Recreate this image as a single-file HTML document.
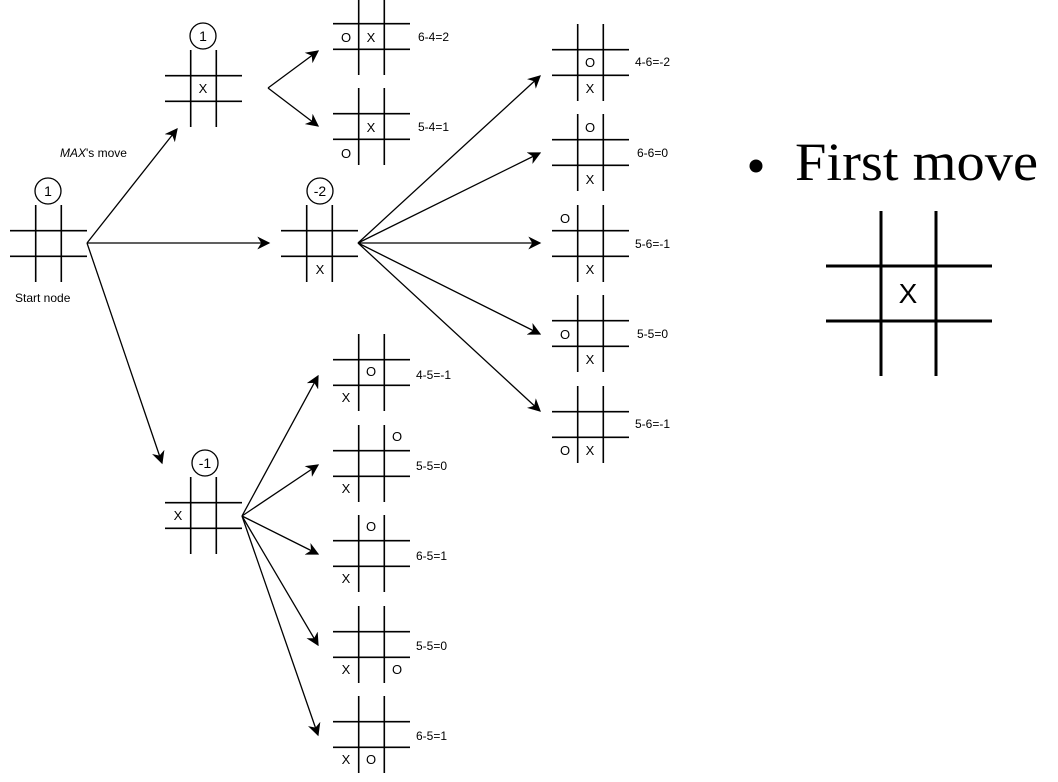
<!DOCTYPE html>
<html><head><meta charset="utf-8"><style>
html,body{margin:0;padding:0;background:#fff;width:1058px;height:782px;overflow:hidden}
svg text{font-family:"Liberation Sans",Arial,sans-serif;fill:#000}
</style></head><body>
<svg width="1058" height="782" viewBox="0 0 1058 782" xmlns="http://www.w3.org/2000/svg">
<defs>
<symbol id="b" overflow="visible">
<g stroke="#000" stroke-width="1.6">
<line x1="0" y1="25.7" x2="77" y2="25.7"/><line x1="0" y1="51.3" x2="77" y2="51.3"/>
<line x1="25.7" y1="0" x2="25.7" y2="77"/><line x1="51.3" y1="0" x2="51.3" y2="77"/>
</g></symbol>
<marker id="ah" markerWidth="13" markerHeight="13" refX="9" refY="5" orient="auto" markerUnits="userSpaceOnUse" viewBox="0 0 10 10">
<path d="M0,0 L10,5 L0,10 L3,5 Z" fill="#000"/></marker>
</defs>

<use href="#b" x="10" y="205"/>
<use href="#b" x="165" y="50"/>
<use href="#b" x="281" y="205"/>
<use href="#b" x="165" y="477"/>
<use href="#b" x="333" y="-2"/>
<use href="#b" x="333" y="88"/>
<use href="#b" x="552" y="24"/>
<use href="#b" x="552" y="114"/>
<use href="#b" x="552" y="205"/>
<use href="#b" x="552" y="295"/>
<use href="#b" x="552" y="386"/>
<use href="#b" x="333" y="334"/>
<use href="#b" x="333" y="425"/>
<use href="#b" x="333" y="515"/>
<use href="#b" x="333" y="606"/>
<use href="#b" x="333" y="696"/>

<g fill="none" stroke="#000" stroke-width="1.3">
<circle cx="48" cy="191" r="13"/>
<circle cx="203" cy="36" r="13"/>
<circle cx="320" cy="191" r="13"/>
<circle cx="205" cy="463" r="13"/>
</g>
<g font-size="14" text-anchor="middle">
<text x="48" y="196">1</text>
<text x="203" y="41">1</text>
<text x="320" y="196">-2</text>
<text x="205" y="468">-1</text>
</g>

<g font-size="13" text-anchor="middle">
<text x="203" y="93">X</text>
<text x="320" y="274">X</text>
<text x="178" y="520">X</text>
<text x="346" y="42">O</text><text x="371" y="42">X</text>
<text x="371" y="132">X</text><text x="346" y="158">O</text>
<text x="590" y="67">O</text><text x="590" y="93">X</text>
<text x="590" y="132">O</text><text x="590" y="184">X</text>
<text x="565" y="223">O</text><text x="590" y="274">X</text>
<text x="565" y="339">O</text><text x="590" y="364">X</text>
<text x="565" y="455">O</text><text x="590" y="455">X</text>
<text x="371" y="376">O</text><text x="346" y="402">X</text>
<text x="397" y="441">O</text><text x="346" y="493">X</text>
<text x="371" y="531">O</text><text x="346" y="583">X</text>
<text x="346" y="674">X</text><text x="397" y="674">O</text>
<text x="346" y="764">X</text><text x="371" y="764">O</text>
</g>

<g font-size="12">
<text x="418" y="41">6-4=2</text>
<text x="418" y="131">5-4=1</text>
<text x="635" y="66">4-6=-2</text>
<text x="637" y="157">6-6=0</text>
<text x="635" y="248">5-6=-1</text>
<text x="637" y="338">5-5=0</text>
<text x="635" y="428">5-6=-1</text>
<text x="416" y="379">4-5=-1</text>
<text x="416" y="470">5-5=0</text>
<text x="416" y="560">6-5=1</text>
<text x="416" y="650">5-5=0</text>
<text x="416" y="740">6-5=1</text>
<text x="60" y="157"><tspan font-style="italic">MAX</tspan>'s move</text>
<text x="15" y="302">Start node</text>
</g>

<g stroke="#000" stroke-width="1.3" fill="none" marker-end="url(#ah)">
<line x1="87" y1="243" x2="177" y2="129"/>
<line x1="87" y1="243" x2="269" y2="243"/>
<line x1="87" y1="243" x2="162" y2="463"/>
<line x1="268" y1="88" x2="318" y2="51"/>
<line x1="268" y1="88" x2="318" y2="126"/>
<line x1="358" y1="243" x2="540" y2="76"/>
<line x1="358" y1="243" x2="540" y2="153"/>
<line x1="358" y1="243" x2="540" y2="243"/>
<line x1="358" y1="243" x2="540" y2="334"/>
<line x1="358" y1="243" x2="540" y2="411"/>
<line x1="242" y1="516" x2="318" y2="376"/>
<line x1="242" y1="516" x2="318" y2="465"/>
<line x1="242" y1="516" x2="318" y2="554"/>
<line x1="242" y1="516" x2="318" y2="645"/>
<line x1="242" y1="516" x2="318" y2="735"/>
</g>

<circle cx="756" cy="166" r="6.5" fill="#000"/>
<text x="795" y="180" font-size="54" textLength="243" lengthAdjust="spacingAndGlyphs" style="font-family:'Liberation Serif','Times New Roman',serif">First move</text>
<g stroke="#000" stroke-width="3">
<line x1="826" y1="266" x2="992" y2="266"/><line x1="826" y1="321" x2="992" y2="321"/>
<line x1="881" y1="211" x2="881" y2="376"/><line x1="936" y1="211" x2="936" y2="376"/>
</g>
<text x="908" y="303" font-size="28" text-anchor="middle">X</text>
</svg>
</body></html>
